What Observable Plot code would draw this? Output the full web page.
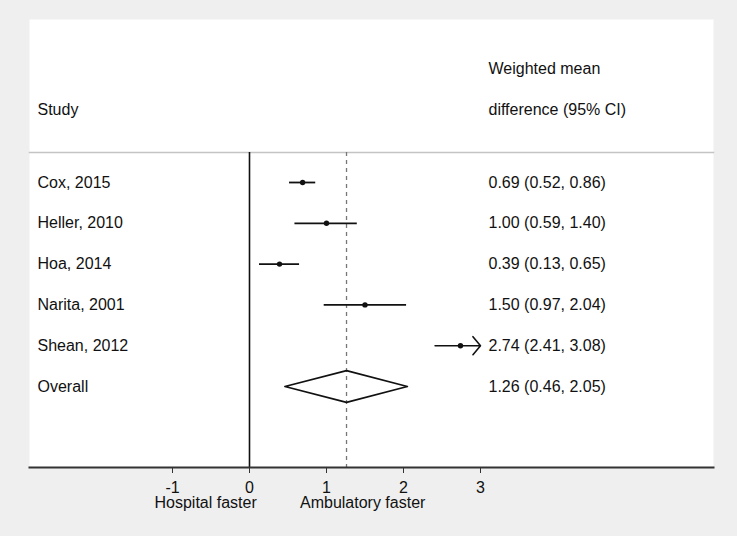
<!DOCTYPE html>
<html>
<head>
<meta charset="utf-8">
<script src="https://cdn.jsdelivr.net/npm/d3@7"></script>
<script src="https://cdn.jsdelivr.net/npm/@observablehq/plot@0.6"></script>
<style>
  html, body { margin: 0; padding: 0; background: #efefef; }
  #chart svg { display: block; }
</style>
</head>
<body>
<div id="chart"></div>
<script>
// ---- data ----
const studies = ["Cox, 2015", "Heller, 2010", "Hoa, 2014", "Narita, 2001", "Shean, 2012", "Overall"];
const wmd     = [0.69, 1.00, 0.39, 1.50, 2.74, 1.26];
const ciLow   = [0.52, 0.59, 0.13, 0.97, 2.41, 0.46];
const ciHigh  = [0.86, 1.40, 0.65, 2.04, 3.08, 2.05];
const xTicks  = [-1, 0, 1, 2, 3];
const studyHeader = ["Study"];
const effectHeader = ["Weighted mean", "difference (95% CI)"];
const sideLabels = ["Hospital faster", "Ambulatory faster"];
const sideLabelX = [-0.57, 1.47];

// ---- derived table ----
const f2 = v => v.toFixed(2);
const rows = studies.map((s, i) => ({
  study: s, i, est: wmd[i], lo: ciLow[i], hi: ciHigh[i],
  label: `${f2(wmd[i])} (${f2(ciLow[i])}, ${f2(ciHigh[i])})`
}));
const xMax = xTicks[xTicks.length - 1];
const trials = rows.slice(0, rows.length - 1);
const overall = rows[rows.length - 1];
const inRange = trials.filter(d => d.hi <= xMax);
const clipped = trials.filter(d => d.hi > xMax);
const dh = 0.39; // diamond half-height in row units
const diamond = [
  {x: overall.lo, y: overall.i},
  {x: overall.est, y: overall.i - dh},
  {x: overall.hi, y: overall.i},
  {x: overall.est, y: overall.i + dh},
  {x: overall.lo, y: overall.i}
];
const sides = sideLabels.map((t, k) => ({t, x: sideLabelX[k]}));

const ink = "#111";
const chart = Plot.plot({
  width: 737,
  height: 536,
  marginTop: 152,
  marginBottom: 69,
  marginLeft: 29,
  marginRight: 24,
  style: {background: "#efefef", fontFamily: "'Liberation Sans', Arial, Helvetica, sans-serif", fontSize: "16px", color: ink},
  x: {domain: [xTicks[0], xMax], range: [172, 480], axis: null},
  y: {domain: [0, rows.length - 1], range: [182, 386], axis: null},
  marks: [
    Plot.frame({fill: "white", stroke: null, insetTop: -133}),
    Plot.frame({anchor: "top", stroke: "#c4c4c4", strokeWidth: 1.5}),
    Plot.ruleX([0], {stroke: ink, strokeWidth: 1.6}),
    Plot.ruleX([overall.est], {stroke: "#777", strokeWidth: 1.3, strokeDasharray: "4,4"}),
    Plot.ruleY(inRange, {y: "i", x1: "lo", x2: "hi", stroke: ink, strokeWidth: 1.8}),
    Plot.arrow(clipped, {x1: "lo", x2: () => xMax, y1: "i", y2: "i", stroke: ink, strokeWidth: 1.6, headLength: 11, headAngle: 100, bend: 0}),
    Plot.dot(trials, {x: "est", y: "i", r: 2.7, fill: ink, stroke: null}),
    Plot.line(diamond, {x: "x", y: "y", stroke: ink, strokeWidth: 1.7, curve: "linear"}),
    Plot.text(rows, {y: "i", text: "study", frameAnchor: "left", textAnchor: "start", dx: 8, fill: ink}),
    Plot.text(rows, {y: "i", text: "label", frameAnchor: "right", textAnchor: "start", dx: -225, fill: ink}),
    Plot.text(studyHeader, {text: d => d, frameAnchor: "top-left", textAnchor: "start", dx: 8, dy: -49, fill: ink}),
    Plot.text([effectHeader[0]], {text: d => d, frameAnchor: "top-right", textAnchor: "start", dx: -225, dy: -90, fill: ink}),
    Plot.text([effectHeader[1]], {text: d => d, frameAnchor: "top-right", textAnchor: "start", dx: -225, dy: -49, fill: ink}),
    Plot.frame({anchor: "bottom", stroke: "#333", strokeWidth: 2}),
    Plot.axisX({anchor: "bottom", ticks: xTicks, tickSize: 6, tickPadding: 8, tickFormat: d => String(d), label: null, stroke: "#333", fill: ink}),
    Plot.text(sides, {x: "x", text: "t", frameAnchor: "bottom", dy: 40, fill: ink})
  ]
});
document.getElementById("chart").appendChild(chart);
</script>
</body>
</html>
